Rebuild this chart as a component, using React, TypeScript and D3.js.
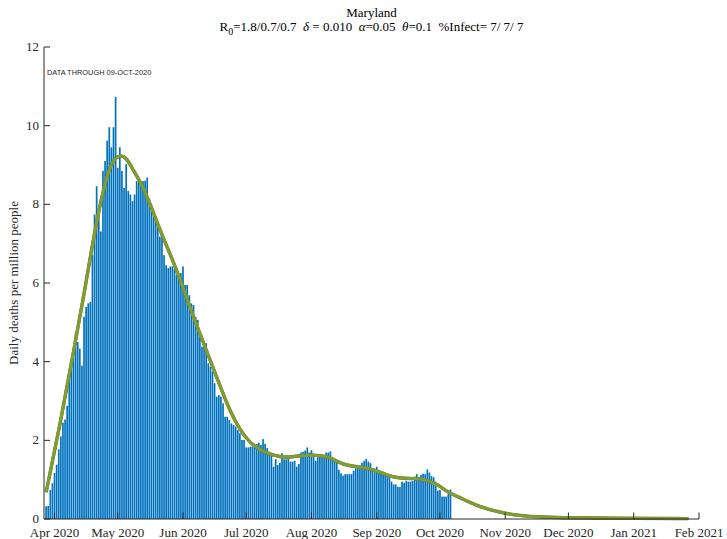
import React from "react";
import * as d3 from "d3";

const START_DATE = "2020-03-28";
const dailyDeaths = [
  0.32, 0.33, 0.74, 0.91, 1.17, 1.38, 1.77, 2.10, 2.45, 2.53,
  2.88, 3.64, 4.03, 4.11, 4.75, 4.50, 4.33, 3.90, 5.14, 5.39,
  5.48, 5.52, 6.71, 7.74, 8.46, 7.91, 7.31, 8.85, 9.10, 9.62,
  9.96, 9.45, 9.96, 10.73, 8.93, 9.45, 8.85, 8.42, 9.02, 8.34,
  8.25, 8.08, 8.25, 8.59, 8.63, 8.50, 8.59, 8.60, 8.68, 8.15,
  7.94, 7.69, 7.64, 7.56, 7.18, 7.22, 6.71, 6.45, 6.38, 6.42,
  6.42, 6.35, 6.20, 6.16, 6.25, 6.42, 5.95, 5.95, 5.69, 5.48,
  5.44, 5.14, 5.06, 4.76, 4.38, 4.47, 4.47, 3.96, 3.87, 3.75,
  3.45, 3.11, 3.15, 3.11, 2.94, 2.60, 2.60, 2.52, 2.43, 2.39,
  2.35, 2.26, 2.18, 2.01, 2.01, 1.82, 1.82, 1.84, 1.84, 1.84,
  1.91, 1.94, 1.88, 2.03, 1.91, 1.80, 1.71, 1.67, 1.33, 1.52,
  1.37, 1.43, 1.67, 1.52, 1.52, 1.57, 1.46, 1.46, 1.48, 1.33,
  1.40, 1.69, 1.71, 1.74, 1.82, 1.69, 1.75, 1.67, 1.48, 1.57,
  1.64, 1.58, 1.57, 1.69, 1.69, 1.72, 1.52, 1.50, 1.46, 1.25,
  1.16, 1.10, 1.14, 1.14, 1.14, 1.14, 1.23, 1.29, 1.33, 1.35,
  1.43, 1.48, 1.53, 1.46, 1.42, 1.25, 1.19, 1.33, 1.23, 1.20,
  1.16, 1.13, 1.10, 1.09, 0.95, 0.88, 0.88, 0.82, 0.81, 0.95,
  0.92, 0.97, 0.95, 0.95, 0.97, 1.08, 1.14, 1.06, 1.12, 1.15,
  1.14, 1.26, 1.18, 1.09, 1.06, 0.95, 0.72, 0.74, 0.57, 0.57,
  0.57, 0.64, 0.75,
];

const modelDates = [
  "2020-03-28", "2020-04-04", "2020-04-10", "2020-04-15", "2020-04-19", "2020-04-23",
  "2020-04-26", "2020-04-29", "2020-05-02", "2020-05-05", "2020-05-08", "2020-05-12",
  "2020-05-16", "2020-05-21", "2020-05-26", "2020-05-31", "2020-06-04", "2020-06-09",
  "2020-06-14", "2020-06-19", "2020-06-23", "2020-06-28", "2020-07-03", "2020-07-08",
  "2020-07-12", "2020-07-17", "2020-07-22", "2020-07-26", "2020-07-31", "2020-08-05",
  "2020-08-10", "2020-08-14", "2020-08-19", "2020-08-24", "2020-08-31", "2020-09-05",
  "2020-09-09", "2020-09-14", "2020-09-19", "2020-09-24", "2020-09-28", "2020-10-01",
  "2020-10-03", "2020-10-08", "2020-10-11", "2020-10-20", "2020-10-30", "2020-11-08",
  "2020-11-18", "2020-12-04", "2020-12-20", "2021-01-27",
];
const modelValues = [
  0.68, 2.5, 4.25, 5.7, 7.0, 8.1,
  8.75, 9.15, 9.25, 9.2, 8.9, 8.55,
  8.07, 7.35, 6.72, 6.05, 5.42, 4.72,
  4.02, 3.33, 2.78, 2.26, 1.92, 1.75,
  1.65, 1.58, 1.57, 1.61, 1.63, 1.61,
  1.57, 1.43, 1.35, 1.33, 1.25, 1.14,
  1.06, 1.03, 1.03, 1.01, 0.91, 0.84,
  0.74, 0.6, 0.53, 0.3, 0.16, 0.085,
  0.05, 0.03, 0.02, 0.01,
];

const yTicks = [0, 2, 4, 6, 8, 10, 12];
const X_START = "2020-03-27";
const X_END = "2021-02-01";
const TITLE = "Maryland";
const NOTE = "DATA THROUGH 09-OCT-2020";
const Y_LABEL = "Daily deaths per million people";

const W = 727, H = 539;
const L = 44, R = 699, T = 47, B = 519;

export default function App() {
  const parse = d3.utcParse("%Y-%m-%d");
  const x = d3.scaleUtc().domain([parse(X_START)!, parse(X_END)!]).range([L, R]);
  const y = d3.scaleLinear().domain([0, 12]).range([B, T]);
  const start = parse(START_DATE)!;
  const bars = dailyDeaths.map((v, i) => ({ d: d3.utcDay.offset(start, i), v }));
  const pitch = x(d3.utcDay.offset(start, 1)) - x(start);
  const bw = pitch * 0.8;
  const model = modelDates.map((s, i) => ({ d: parse(s)!, v: modelValues[i] }));
  const line = d3
    .line<{ d: Date; v: number }>()
    .x((p) => x(p.d))
    .y((p) => y(p.v))
    .curve(d3.curveBasis);
  const months = d3.utcMonth.range(d3.utcMonth.ceil(parse(X_START)!), d3.utcDay.offset(parse(X_END)!, 1));
  const fmt = d3.utcFormat("%b %Y");
  const serif = "'Liberation Serif', 'Times New Roman', serif";
  const axisColor = "#262626";
  return (
    <svg width={W} height={H} style={{ position: "absolute", left: 0, top: 0, background: "#fff" }}>
      <rect x={0} y={0} width={W} height={H} fill="#fff" />
      {bars.map((b, i) => (
        <rect key={i} x={x(b.d) - bw / 2} y={y(b.v)} width={bw} height={y(0) - y(b.v)} fill="#0072BD" />
      ))}
      <path d={line(model) || ""} fill="none" stroke="#A0522D" strokeWidth={3.4} />
      <path d={line(model) || ""} fill="none" stroke="#77A232" strokeWidth={3} />
      <line x1={L} x2={L} y1={T} y2={B} stroke={axisColor} strokeWidth={1} />
      <line x1={L} x2={R} y1={B} y2={B} stroke={axisColor} strokeWidth={1} />
      {yTicks.map((t) => (
        <g key={t}>
          <line x1={L} x2={L + 6} y1={y(t)} y2={y(t)} stroke={axisColor} />
          <text x={L - 5} y={y(t) + 4} textAnchor="end" fontFamily={serif} fontSize={13} fill={axisColor}>
            {t}
          </text>
        </g>
      ))}
      {months.map((m, i) => (
        <g key={i}>
          <line x1={x(m)} x2={x(m)} y1={B} y2={B - 6.5} stroke={axisColor} />
          <text x={x(m)} y={B + 17.5} textAnchor="middle" fontFamily={serif} fontSize={13} fill={axisColor}>
            {fmt(m)}
          </text>
        </g>
      ))}
      <text
        transform={`translate(18,${(T + B) / 2}) rotate(-90)`}
        textAnchor="middle"
        fontFamily={serif}
        fontSize={13}
        fill={axisColor}
      >
        {Y_LABEL}
      </text>
      <text x={L + 3} y={T + 28} fontFamily="'Liberation Sans', Arial, sans-serif" fontSize={7.4} fill={axisColor}>
        {NOTE}
      </text>
      <text x={(L + R) / 2} y={17} textAnchor="middle" fontFamily={serif} fontSize={13} fill="#000">
        {TITLE}
      </text>
      <text x={(L + R) / 2} y={31} textAnchor="middle" fontFamily={serif} fontSize={13} fill="#000" style={{ whiteSpace: "pre" }}>
        R<tspan dy={4} fontSize={10}>0</tspan>
        <tspan dy={-4}>{"=1.8/0.7/0.7\u00a0\u00a0"}</tspan>
        <tspan fontStyle="italic">δ</tspan>
        <tspan>{" = 0.010\u00a0\u00a0"}</tspan>
        <tspan fontStyle="italic">α</tspan>
        <tspan>{"=0.05\u00a0\u00a0"}</tspan>
        <tspan fontStyle="italic">θ</tspan>
        <tspan>{"=0.1\u00a0\u00a0%Infect= 7/ 7/ 7"}</tspan>
      </text>
    </svg>
  );
}
